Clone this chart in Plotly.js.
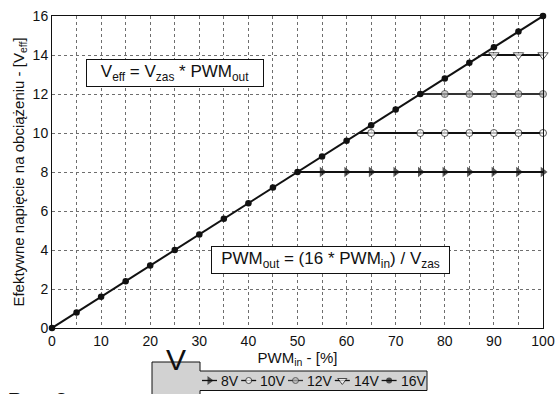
<!DOCTYPE html>
<html>
<head>
<meta charset="utf-8">
<script src="https://cdn.plot.ly/plotly-3.0.1.min.js"></script>
<style>html,body{margin:0;padding:0;background:#fff;}#chart{width:560px;height:394px;}</style>
</head>
<body>
<div id="chart"></div>
<script>
// ---- data ----
const pwmIn = [0,5,10,15,20,25,30,35,40,45,50,55,60,65,70,75,80,85,90,95,100];
const v16   = [0,0.8,1.6,2.4,3.2,4,4.8,5.6,6.4,7.2,8,8.8,9.6,10.4,11.2,12,12.8,13.6,14.4,15.2,16];
const x8  = [50,55,60,65,70,75,80,85,90,95,100];
const v8  = [8,8,8,8,8,8,8,8,8,8,8];
const x10 = [62.5,65,75,80,85,90,95,100];
const v10 = [10,10,10,10,10,10,10,10];
const x12 = [75,80,85,90,95,100];
const v12 = [12,12,12,12,12,12];
const x14 = [87.5,90,95,100];
const v14 = [14,14,14,14];
const seriesNames = ['8V','10V','12V','14V','16V'];
const xTitle = 'PWM<sub>in</sub> - [%]';
const yTitle = 'Efektywne napięcie na obciążeniu - [V<sub>eff</sub>]';
const formula1 = 'V<sub>eff</sub> = V<sub>zas</sub> * PWM<sub>out</sub>';
const formula2 = 'PWM<sub>out</sub> = (16 * PWM<sub>in</sub>) / V<sub>zas</sub>';
const legendBoxLabel = 'V';
const legendBoxSub = 'z a s';
const figLabel = '<b>Rys. 2</b>';

// ---- styles ----
const ink = '#111';
const markerStyles = [
  {symbol:'triangle-right', size:9, color:ink, line:{color:ink, width:0}},
  {symbol:'circle', size:7, color:'#fff', line:{color:ink, width:1}},
  {symbol:'circle', size:7, color:'#b4b4b4', line:{color:'#333', width:1}},
  {symbol:'triangle-down', size:9, color:'#fff', line:{color:ink, width:1}},
  {symbol:'circle', size:6.5, color:ink, line:{color:ink, width:0}}
];
const lineStyles = [
  {color:ink, width:2}, {color:ink, width:2}, {color:'#333', width:2}, {color:ink, width:2}, {color:ink, width:2}
];
function hideFirst(n, s){ const a=[0]; for(let i=1;i<n;i++) a.push(s); return a; }
function withSize(st, size){ return Object.assign({}, st, {size:size}); }

const seriesX = [x8, x10, x12, x14, pwmIn];
const seriesY = [v8, v10, v12, v14, v16];

const traces = [];
for (let i=0;i<5;i++){
  const isMain = i===4;
  traces.push({
    x:seriesX[i], y:seriesY[i], name:seriesNames[i], mode:'lines+markers',
    xaxis:'x', yaxis:'y', showlegend:false, hoverinfo:'skip', cliponaxis:false,
    line:lineStyles[i],
    marker: isMain ? markerStyles[i] : withSize(markerStyles[i], hideFirst(seriesX[i].length, markerStyles[i].size))
  });
}

// ---- custom legend strip (layout in pixel units of the page) ----
const T = 16, B = 4, H = 394;
const py = p => (H - B - p) / (H - T - B);          // pixel -> paper y
const px = p => (p - 52) / 491;                     // pixel -> paper x
const symLen = 15, textGap = 2, charW = 7.6, itemGap = 7;
let cursor = 202;
const legendAnn = [];
for (let i=0;i<5;i++){
  const s = cursor;
  traces.push({
    x:[s, s+symLen/2, s+symLen], y:[0.5,0.5,0.5], mode:'lines+markers',
    xaxis:'x2', yaxis:'y2', showlegend:false, hoverinfo:'skip', cliponaxis:false,
    line:{color:lineStyles[i].color, width:1.3},
    marker: withSize(markerStyles[i], [0, i===4 ? 6 : (i===0||i===3 ? 8 : 6), 0])
  });
  legendAnn.push({text:seriesNames[i], xref:'x2', yref:'y2', x:s+symLen+textGap, y:0.5,
    xanchor:'left', yanchor:'middle', showarrow:false, font:{size:14, color:ink}});
  cursor = s + symLen + textGap + charW*seriesNames[i].length + itemGap;
}

const gridCol = '#6e6e6e';
const layout = {
  width:560, height:394,
  margin:{l:52, r:17, t:T, b:B, autoexpand:false},
  paper_bgcolor:'#fff', plot_bgcolor:'#fff',
  font:{family:'"Liberation Sans", Arial, sans-serif', color:ink, size:14},
  showlegend:false,
  xaxis:{domain:[0,1], anchor:'y', range:[0,100], dtick:10, tick0:0,
    showgrid:true, gridcolor:gridCol, gridwidth:1, griddash:'dot',
    minor:{dtick:5, showgrid:true, gridcolor:gridCol, gridwidth:1, griddash:'dot'},
    showline:true, linecolor:ink, linewidth:1, mirror:true, zeroline:false, ticks:'',
    tickfont:{size:14, color:ink}, automargin:false,
    title:{text:xTitle, font:{size:15, color:ink}, standoff:1}},
  yaxis:{domain:[py(328),1], anchor:'x', range:[0,16], dtick:2, tick0:0,
    showgrid:true, gridcolor:gridCol, gridwidth:1, griddash:'dot',
    showline:true, linecolor:ink, linewidth:1, mirror:true, zeroline:false, ticks:'',
    tickfont:{size:14, color:ink}, automargin:false,
    title:{text:yTitle, font:{size:15, color:ink}, standoff:4}},
  xaxis2:{domain:[0,1], anchor:'y2', range:[52,543], visible:false, fixedrange:true},
  yaxis2:{domain:[0, py(371)], anchor:'x2', range:[0,1], visible:false, fixedrange:true},
  shapes:[
    {type:'path', xref:'paper', yref:'paper', layer:'below',
     path:'M '+px(152)+','+py(402)+' L '+px(152)+','+py(362)+
          ' L '+px(200)+','+py(362)+' L '+px(200)+','+py(371)+
          ' L '+px(427)+','+py(371)+' L '+px(427)+','+py(390.5)+
          ' L '+px(200)+','+py(390.5)+' L '+px(200)+','+py(402)+' Z',
     fillcolor:'#d2d2d2', line:{color:ink, width:1}}
  ],
  annotations:[
    {text:formula1, x:25.15, y:13.08, xref:'x', yref:'y', showarrow:false,
     font:{size:17, color:ink}, bgcolor:'#fff', bordercolor:ink, borderwidth:1, borderpad:2,
     width:172, height:22},
    {text:formula2, x:56.7, y:3.47, xref:'x', yref:'y', showarrow:false,
     font:{size:17, color:ink}, bgcolor:'#fff', bordercolor:ink, borderwidth:1, borderpad:2,
     width:233, height:22},
    {text:legendBoxLabel, xref:'paper', yref:'paper', x:px(163.5), y:py(378), showarrow:false,
     font:{size:30, color:ink}},
    {text:legendBoxSub, xref:'paper', yref:'paper', x:px(184), y:py(390), yanchor:'top', showarrow:false,
     font:{size:9, color:'#555'}},
    {text:figLabel, xref:'paper', yref:'paper', x:px(6), xanchor:'left', y:py(387), yanchor:'top', showarrow:false,
     font:{size:20, color:ink}}
  ].concat(legendAnn)
};

Plotly.newPlot('chart', traces, layout, {displayModeBar:false, staticPlot:true});
</script>
</body>
</html>
